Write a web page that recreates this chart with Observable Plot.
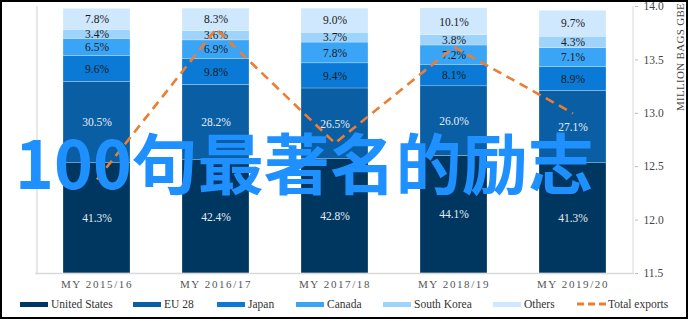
<!DOCTYPE html>
<html>
<head>
<meta charset="utf-8">
<script src="https://cdn.jsdelivr.net/npm/d3@7"></script>
<script src="https://cdn.jsdelivr.net/npm/@observablehq/plot@0.6"></script>
<style>
  html, body { margin: 0; padding: 0; background: #fff; }
  #wrap { position: relative; width: 688px; height: 319px; overflow: hidden; background: #fff; }
  #frame { position: absolute; left: 0; top: 0; width: 688px; height: 319px; box-sizing: border-box; border: 2px solid #000; pointer-events: none; }
  #chart { position: absolute; left: 0; top: 0; }
  #chart svg text { font-family: "Liberation Serif", "Times New Roman", Times, "DejaVu Serif", serif; }
  #legend { position: absolute; left: 0; top: 296px; width: 688px; height: 16px; font-family: "Liberation Serif", "Times New Roman", Times, "DejaVu Serif", serif; font-size: 11.5px; color: #333; }
  .item { position: absolute; top: 0; display: flex; align-items: center; height: 16px; white-space: nowrap; }
  .sw { width: 28px; height: 5px; margin-right: 3px; }
  #ylabel { position: absolute; font-family: "Liberation Serif", "Times New Roman", Times, "DejaVu Serif", serif; font-size: 11px; color: #444; letter-spacing: 0.3px; white-space: nowrap; transform-origin: center; }
  #overlay { position: absolute; left: 15px; top: 127px; font-family: "Noto Sans CJK SC", sans-serif; font-weight: bold; font-size: 66px; line-height: 1; color: #1E90FF; white-space: nowrap; }
</style>
</head>
<body>
<div id="wrap">
  <div id="chart"></div>
  <div id="legend"></div>
  <div id="ylabel">MILLION BAGS GBE</div>
  <div id="overlay">100句最著名的励志</div>
  <div id="frame"></div>
</div>
<script>
const years = ["MY 2015/16", "MY 2016/17", "MY 2017/18", "MY 2018/19", "MY 2019/20"];
const seriesNames = ["United States", "EU 28", "Japan", "Canada", "South Korea", "Others"];
const unitedStates = [41.3, 42.4, 42.8, 44.1, 41.3];
const eu28 = [30.5, 28.2, 26.5, 26.0, 27.1];
const japan = [9.6, 9.8, 9.4, 8.1, 8.9];
const canada = [6.5, 6.9, 7.8, 7.2, 7.1];
const southKorea = [3.4, 3.6, 3.7, 3.8, 4.3];
const others = [7.8, 8.3, 9.0, 10.1, 9.7];
const totalExports = [12.38, 13.79, 12.72, 13.62, 13.0];
const rightTicks = [11.5, 12.0, 12.5, 13.0, 13.5, 14.0];
const rightDomain = [11.5, 14.0];

const colors = ["#003760", "#0a5ea4", "#0a7ad6", "#3aa5f6", "#9ed3fb", "#cfe8fd"];
const labelColors = ["#e6edf5", "#e6edf5", "#1a1a1a", "#1a1a1a", "#1a1a1a", "#1a1a1a"];

const seriesValues = [unitedStates, eu28, japan, canada, southKorea, others];
const rows = [];
seriesNames.forEach((s, si) => years.forEach((y, yi) => rows.push({year: y, series: s, value: seriesValues[si][yi]})));
const lineRows = years.map((y, i) => ({year: y, total: totalExports[i]}));

// map right-axis units onto shared 0–100 y scale
const toPct = v => (v - rightDomain[0]) / (rightDomain[1] - rightDomain[0]) * 100;

const W = 688, H = 296;
const mL = 35, mR = 54, mT = 6, mB = 23;
const serif = "Liberation Serif, Times New Roman, Times, DejaVu Serif, serif";

const chart = Plot.plot({
  width: W, height: H,
  marginLeft: mL, marginRight: mR, marginTop: mT, marginBottom: mB,
  style: {fontFamily: serif, fontSize: "11px", color: "#444", background: "transparent"},
  x: {domain: years, paddingInner: 0.433, paddingOuter: 0.2167, label: null},
  y: {domain: [0, 100], label: null},
  color: {domain: seriesNames, range: colors},
  marks: [
    Plot.barY(rows, Plot.stackY({x: "year", y: "value", fill: "series", order: seriesNames, stroke: "#ffffff", strokeWidth: 0.4, strokeOpacity: 0.6})),
    Plot.text(rows, Plot.stackY({x: "year", y: "value", order: seriesNames, text: d => d.value.toFixed(1) + "%",
      fill: d => labelColors[seriesNames.indexOf(d.series)], fontSize: 11.5})),
    Plot.ruleY([0], {stroke: "#d9d9d9", strokeWidth: 1.5}),
    Plot.ruleX([years[0]], {dx: -60, y1: 0, y2: 100, stroke: "#e0e0e0", strokeWidth: 1.5}),
    Plot.ruleX([years[years.length - 1]], {dx: 60, y1: 0, y2: 100, stroke: "#d9d9d9", strokeWidth: 1}),
    Plot.axisX({anchor: "bottom", tickSize: 0, tickPadding: 7, fontSize: 11, fill: "#555", letterSpacing: "1.6px"}),
    Plot.axisY({anchor: "right", ticks: rightTicks.map(toPct), tickFormat: d => (rightDomain[0] + d / 100 * (rightDomain[1] - rightDomain[0])).toFixed(1),
      tickSize: 3, tickPadding: 6, stroke: "#bbb", fill: "#444", fontSize: 11.5, label: null}),
    Plot.line(lineRows, {x: "year", y: d => toPct(d.total), stroke: "#ED7D31", strokeWidth: 2.6, strokeDasharray: "9,6", strokeLinecap: "butt"})
  ]
});
document.getElementById("chart").appendChild(chart);
chart.querySelectorAll("g[aria-label='x-axis tick label'] text").forEach(t => t.setAttribute("letter-spacing", "1.6px"));

// legend
const legend = document.getElementById("legend");
const legendX = [20, 133, 217, 296, 383, 493];
seriesNames.forEach((s, i) => {
  const it = document.createElement("div");
  it.className = "item";
  it.style.left = legendX[i] + "px";
  it.innerHTML = `<span class="sw" style="background:${colors[i]}"></span><span>${s}</span>`;
  legend.appendChild(it);
});
const lt = document.createElement("div");
lt.className = "item";
lt.style.left = "577px";
lt.innerHTML = `<svg width="30" height="6" style="margin-right:1px"><line x1="0" y1="3" x2="30" y2="3" stroke="#ED7D31" stroke-width="3" stroke-dasharray="7,4"/></svg><span>Total exports</span>`;
legend.appendChild(lt);

// rotated right-axis title
const yl = document.getElementById("ylabel");
const w = yl.offsetWidth, h = yl.offsetHeight;
yl.style.left = (680 - w / 2) + "px";
yl.style.top = (57 - h / 2) + "px";
yl.style.transform = "rotate(-90deg)";
</script>
</body>
</html>
